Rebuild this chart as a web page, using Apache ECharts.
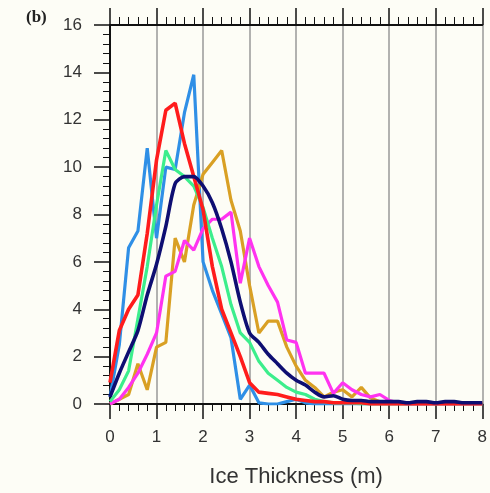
<!DOCTYPE html>
<html>
<head>
<meta charset="utf-8">
<script src="https://cdn.jsdelivr.net/npm/echarts@6.0.0/dist/echarts.min.js"></script>
<style>
  html, body { margin: 0; padding: 0; background: #fdfdf6; }
  #chart { width: 490px; height: 493px; }
</style>
</head>
<body>
<div id="chart"></div>
<script>
// ice thickness bins (m), 0.2 m steps
const thickness = [];
for (let i = 0; i <= 40; i++) thickness.push(+(i * 0.2).toFixed(1));

const blueVals = [0.3, 2.5, 6.6, 7.3, 10.8, 7.0, 10.0, 9.9, 12.3, 13.9, 6.0, 4.8, 3.8, 2.8, 0.2, 0.8, 0.05, 0, 0, 0.1,
  0.2, 0.05, 0, 0, 0, 0, 0, 0, 0, 0, 0, 0, 0, 0, 0, 0, 0, 0, 0, 0, 0];
const goldVals = [0, 0.2, 0.4, 1.7, 0.6, 2.4, 2.6, 7.0, 6.0, 8.4, 9.7, 10.2, 10.7, 8.6, 7.3, 5.0, 3.0, 3.5, 3.5, 2.4,
  1.6, 1.0, 0.7, 0.3, 0.5, 0.6, 0.3, 0.7, 0.25, 0.1, 0.05, 0.05, 0.05, 0.05, 0.05, 0.05, 0.05, 0.05, 0.05, 0.05, 0.05];
const magentaVals = [0, 0.2, 0.7, 1.3, 2.1, 3.0, 5.4, 5.6, 6.9, 6.5, 7.4, 7.8, 7.8, 8.1, 5.1, 7.0, 5.8, 5.0, 4.3, 2.7,
  2.6, 1.3, 1.3, 1.3, 0.45, 0.9, 0.6, 0.4, 0.3, 0.4, 0.15, 0.05, 0, 0, 0, 0, 0, 0, 0, 0, 0];
const greenVals = [0.1, 0.6, 1.4, 3.6, 5.8, 8.4, 10.7, 9.9, 9.6, 9.2, 8.3, 7.0, 5.8, 4.2, 3.0, 2.6, 1.8, 1.3, 1.0, 0.7,
  0.5, 0.4, 0.2, 0.1, 0.05, 0.05, 0.05, 0, 0, 0, 0, 0, 0, 0, 0, 0, 0, 0, 0, 0, 0];
const redVals = [0.9, 3.1, 4.0, 4.6, 7.2, 10.3, 12.4, 12.7, 11.0, 9.6, 8.2, 5.8, 4.0, 3.0, 2.0, 0.9, 0.5, 0.45, 0.4, 0.3,
  0.2, 0.15, 0.1, 0.1, 0.05, 0.05, 0.05, 0.05, 0, 0, 0, 0, 0, 0, 0, 0, 0, 0, 0, 0, 0];
const navyVals = [0.3, 1.3, 2.2, 3.1, 4.6, 5.9, 7.5, 9.3, 9.6, 9.6, 9.2, 8.5, 7.4, 6.0, 4.3, 3.0, 2.6, 2.1, 1.7, 1.3,
  1.0, 0.8, 0.5, 0.3, 0.35, 0.2, 0.15, 0.15, 0.1, 0.1, 0.1, 0.1, 0.05, 0.1, 0.1, 0.05, 0.1, 0.1, 0.05, 0.05, 0.05];

const lines = [
  { vals: blueVals, color: "#2f8fe6", width: 3.2, smooth: false },
  { vals: goldVals, color: "#d9a024", width: 3.2, smooth: false },
  { vals: magentaVals, color: "#ff33f0", width: 3.2, smooth: false },
  { vals: greenVals, color: "#3cee8c", width: 3.2, smooth: false },
  { vals: redVals, color: "#ff1c1c", width: 3.6, smooth: false },
  { vals: navyVals, color: "#0e0e72", width: 3.6, smooth: 0.25 },
];

const axisColor = "#111";
const labelFont = { fontFamily: "Liberation Sans", fontSize: 17, color: "#333" };

const chart = echarts.init(document.getElementById("chart"));
chart.setOption({
  animation: false,
  backgroundColor: "#fdfdf6",
  title: {
    text: "(b)",
    left: 21,
    top: 4,
    textStyle: { fontFamily: "Liberation Serif", fontWeight: "bold", fontSize: 17, color: "#222" },
  },
  grid: { left: 110, top: 25, right: 3, bottom: 89 },
  xAxis: [
    {
      type: "value",
      position: "bottom",
      min: 0,
      max: 8,
      interval: 1,
      name: "Ice Thickness (m)",
      nameLocation: "middle",
      nameGap: 62,
      nameTextStyle: { fontFamily: "Liberation Sans", fontSize: 22, color: "#333" },
      axisLine: { onZero: false, lineStyle: { color: axisColor, width: 2 } },
      axisTick: { length: 15, lineStyle: { color: axisColor, width: 1.5 } },
      minorTick: { show: true, splitNumber: 5, length: 7, lineStyle: { color: axisColor, width: 1 } },
      axisLabel: Object.assign({ margin: 25 }, labelFont),
      splitLine: { show: true, lineStyle: { color: "#999", width: 1.5 } },
    },
    {
      type: "value",
      position: "top",
      min: 0,
      max: 8,
      interval: 1,
      axisLine: { onZero: false, lineStyle: { color: axisColor, width: 2 } },
      axisTick: { length: 17, lineStyle: { color: axisColor, width: 1.5 } },
      minorTick: { show: true, splitNumber: 5, length: 8, lineStyle: { color: axisColor, width: 1 } },
      axisLabel: { show: false },
      splitLine: { show: false },
    },
  ],
  yAxis: {
    type: "value",
    min: 0,
    max: 16,
    interval: 2,
    axisLine: { show: true, onZero: false, lineStyle: { color: axisColor, width: 2 } },
    axisTick: { show: true, length: 16, lineStyle: { color: axisColor, width: 1.5 } },
    minorTick: { show: true, splitNumber: 5, length: 7, lineStyle: { color: axisColor, width: 1 } },
    axisLabel: Object.assign({ margin: 28 }, labelFont),
    splitLine: { show: false },
  },
  series: lines.map((l) => ({
    type: "line",
    xAxisIndex: 0,
    showSymbol: false,
    smooth: l.smooth,
    data: thickness.map((x, i) => [x, l.vals[i]]),
    lineStyle: { color: l.color, width: l.width },
    itemStyle: { color: l.color },
  })),
});
</script>
</body>
</html>
